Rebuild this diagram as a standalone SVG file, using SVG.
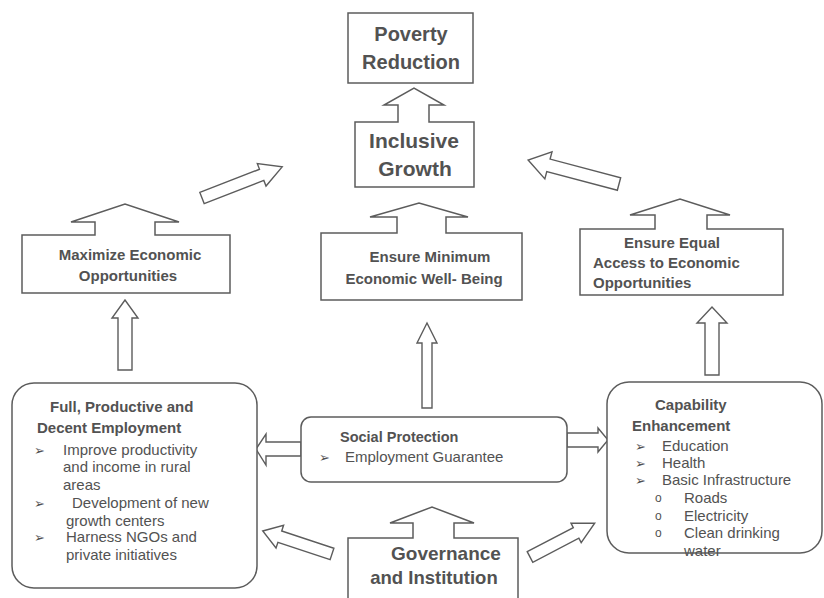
<svg xmlns="http://www.w3.org/2000/svg" width="824" height="598" viewBox="0 0 824 598">
<style>
.box{fill:#fff;stroke:#5c5c5c;stroke-width:1.5;stroke-linejoin:miter}
.arr{fill:#fff;stroke:#5c5c5c;stroke-width:1.4;stroke-linejoin:miter}
.t{font-family:"Liberation Sans",Arial,sans-serif;fill:#525252}
.h{font-weight:bold}
.big{font-size:20px;font-weight:bold}
.lbl{font-size:15px;font-weight:bold}
.reg{font-size:15px}
.bul{font-family:"DejaVu Sans","Liberation Sans",sans-serif;font-size:13px;fill:#4f4f4f}
</style>
<rect width="824" height="598" fill="#fff"/>

<g id="connectors">
  <path class="arr" d="M0,-6 H64 V-12 L86,0 L64,12 V6 H0 Z" transform="translate(202,198) rotate(-21.2)"/>
  <path class="arr" d="M0,-6.5 H73 V-14 L94,0 L73,14 V6.5 H0 Z" transform="translate(619,184) rotate(194.8)"/>
  <path class="arr" d="M118,370 V318 H112 L125,300 L138,318 H132 V370 Z"/>
  <path class="arr" d="M422,408 V343 H417 L427,323 L437,343 H432 V408 Z"/>
  <path class="arr" d="M705,375 V323 H697 L712,307 L727,323 H719 V375 Z"/>
  <path class="arr" d="M567,433 H598 V428 L608,440 L598,452 V447 H567 Z"/>
  <path class="arr" d="M301,442 H266 V434 L256,449 L266,465 V456 H301 Z"/>
  <path class="arr" d="M0,-6 H55 V-12 L73,0 L55,12 V6 H0 Z" transform="translate(332,554) rotate(198.4)"/>
  <path class="arr" d="M0,-6 H52 V-11 L73,0 L52,11 V6 H0 Z" transform="translate(530,557) rotate(-27.6)"/>
</g>

<g id="poverty-reduction">
  <rect class="box" x="348" y="13" width="125" height="70"/>
  <text class="t big" x="411" y="41" text-anchor="middle">Poverty</text>
  <text class="t big" x="411" y="69" text-anchor="middle">Reduction</text>
</g>

<g id="inclusive-growth">
  <path class="box" d="M355,122 H398 V105 H384 L414,88 L444,105 H429 V122 H474 V187 H355 Z"/>
  <text class="t h" style="font-size:21px" x="414" y="148" text-anchor="middle">Inclusive</text>
  <text class="t h" style="font-size:21px" x="415" y="176" text-anchor="middle">Growth</text>
</g>

<g id="maximize">
  <path class="box" d="M22,235 H95 V222 H71 L125,204 L179,222 H155 V235 H230 V293 H22 Z"/>
  <text class="t lbl" x="130" y="260" text-anchor="middle">Maximize Economic</text>
  <text class="t lbl" x="128" y="281" text-anchor="middle">Opportunities</text>
</g>

<g id="minimum-wellbeing">
  <path class="box" d="M321,233 H397 V217 H370 L419,203 L468,217 H446 V233 H522 V300 H321 Z"/>
  <text class="t lbl" x="430" y="262" text-anchor="middle">Ensure Minimum</text>
  <text class="t lbl" x="424" y="284" text-anchor="middle">Economic Well- Being</text>
</g>

<g id="equal-access">
  <path class="box" d="M580,229 H655 V215 H630 L680,199 L730,215 H707 V229 H783 V295 H580 Z"/>
  <text class="t lbl" x="672" y="248" text-anchor="middle">Ensure Equal</text>
  <text class="t lbl" x="593" y="268">Access to Economic</text>
  <text class="t lbl" x="593" y="288">Opportunities</text>
</g>

<g id="employment">
  <rect class="box" x="12" y="383" width="245" height="205" rx="22" ry="22"/>
  <text class="t lbl" x="50" y="412">Full, Productive and</text>
  <text class="t lbl" x="37" y="433">Decent Employment</text>
  <text class="bul" x="34" y="455">➢</text>
  <text class="t reg" x="63" y="455">Improve productivity</text>
  <text class="t reg" x="63" y="472">and income in rural</text>
  <text class="t reg" x="63" y="490">areas</text>
  <text class="bul" x="34" y="508">➢</text>
  <text class="t reg" x="72" y="508">Development of new</text>
  <text class="t reg" x="66" y="526">growth centers</text>
  <text class="bul" x="34" y="542">➢</text>
  <text class="t reg" x="66" y="542">Harness NGOs and</text>
  <text class="t reg" x="66" y="560">private initiatives</text>
</g>

<g id="social-protection">
  <rect class="box" x="301" y="417" width="266" height="65" rx="10" ry="10"/>
  <text class="t h" style="font-size:14.5px" x="340" y="442">Social Protection</text>
  <text class="bul" x="319" y="462">➢</text>
  <text class="t reg" x="345" y="462">Employment Guarantee</text>
</g>

<g id="capability">
  <rect class="box" x="607" y="382" width="215" height="171" rx="22" ry="22"/>
  <text class="t lbl" x="655" y="410">Capability</text>
  <text class="t lbl" x="632" y="431">Enhancement</text>
  <text class="bul" x="635" y="451">➢</text>
  <text class="t reg" x="662" y="451">Education</text>
  <text class="bul" x="635" y="468">➢</text>
  <text class="t reg" x="662" y="468">Health</text>
  <text class="bul" x="635" y="485">➢</text>
  <text class="t reg" x="662" y="485">Basic Infrastructure</text>
  <text class="t" style="font-size:12px" x="655" y="502">o</text>
  <text class="t reg" x="684" y="503">Roads</text>
  <text class="t" style="font-size:12px" x="655" y="520">o</text>
  <text class="t reg" x="684" y="521">Electricity</text>
  <text class="t" style="font-size:12px" x="655" y="537">o</text>
  <text class="t reg" x="684" y="538">Clean drinking</text>
  <text class="t reg" x="684" y="556">water</text>
</g>

<g id="governance">
  <path class="box" d="M348,538 H413 V523 H390 L432,507 L474,523 H454 V538 H518 V610 H348 Z"/>
  <text class="t h" style="font-size:19px" x="446" y="560" text-anchor="middle">Governance</text>
  <text class="t h" style="font-size:18.5px" x="434" y="584" text-anchor="middle">and Institution</text>
</g>
</svg>
